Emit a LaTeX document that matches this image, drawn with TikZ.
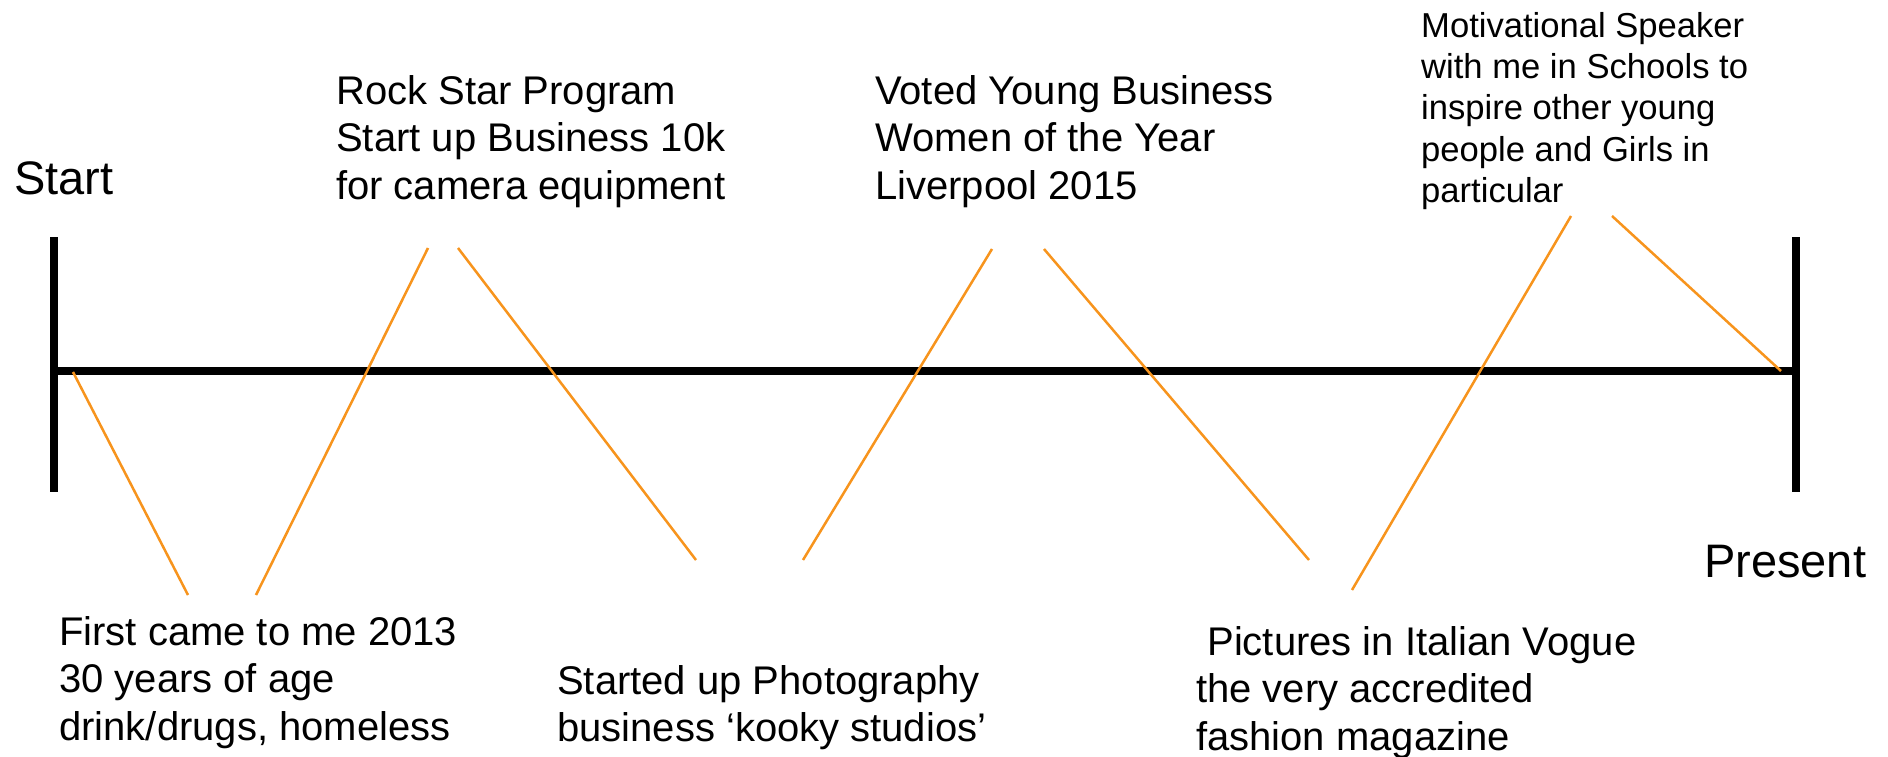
\documentclass[tikz,border=0pt]{standalone}
\usepackage{fontspec}
\setmainfont{Liberation Sans}
\definecolor{linkorange}{RGB}{247,148,29}
\begin{document}
\begin{tikzpicture}[x=1pt,y=-1pt,
  bar/.style={line width=8pt,black},
  link/.style={line width=2.5pt,linkorange},
  big/.style={inner sep=0pt,anchor=north west,font=\fontsize{47}{56}\selectfont},
  note/.style={inner sep=0pt,anchor=north west,align=left,font=\fontsize{40}{47.5}\selectfont},
  small/.style={inner sep=0pt,anchor=north west,align=left,font=\fontsize{34.6}{41.3}\selectfont}]
\useasboundingbox (0,0) rectangle (1888,757);
% timeline
\coordinate (ltop) at (54,237);
\coordinate (lbot) at (54,492);
\coordinate (rtop) at (1796,237);
\coordinate (rbot) at (1796,492);
\coordinate (lmid) at (54,371);
\coordinate (rmid) at (1796,371);
\draw[bar] (ltop) -- (lbot);
\draw[bar] (rtop) -- (rbot);
\draw[bar] (lmid) -- (rmid);
% labels
\node[big] (start) at (14,161) {Start};
\node[big] (present) at (1704,545) {Present};
\node[note] (rock) at (336,75) {Rock Star Program\\Start up Business 10k\\for camera equipment};
\node[note] (voted) at (875,75) {Voted Young Business\\Women of the Year\\Liverpool 2015};
\node[small] (speaker) at (1421,12) {Motivational Speaker\\with me in Schools to\\inspire other young\\people and Girls in\\particular};
\node[note] (first) at (59,616) {First came to me 2013\\30 years of age\\drink/drugs, homeless};
\node[note] (photo) at (557,665) {Started up Photography\\business ‘kooky studios’};
\node[note] (vogue) at (1196,626) {\ Pictures in Italian Vogue\\the very accredited\\fashion magazine};
% connector ends
\coordinate (a1) at (73,372);   \coordinate (a2) at (188,595);
\coordinate (b1) at (256,595);  \coordinate (b2) at (428,248);
\coordinate (c1) at (458,248);  \coordinate (c2) at (696,560);
\coordinate (d1) at (803,560);  \coordinate (d2) at (992,249);
\coordinate (e1) at (1044,249); \coordinate (e2) at (1309,560);
\coordinate (f1) at (1352,590); \coordinate (f2) at (1571,216);
\coordinate (g1) at (1612,216); \coordinate (g2) at (1781,371);
\draw[link] (a1) -- (a2);
\draw[link] (b1) -- (b2);
\draw[link] (c1) -- (c2);
\draw[link] (d1) -- (d2);
\draw[link] (e1) -- (e2);
\draw[link] (f1) -- (f2);
\draw[link] (g1) -- (g2);
\end{tikzpicture}
\end{document}
